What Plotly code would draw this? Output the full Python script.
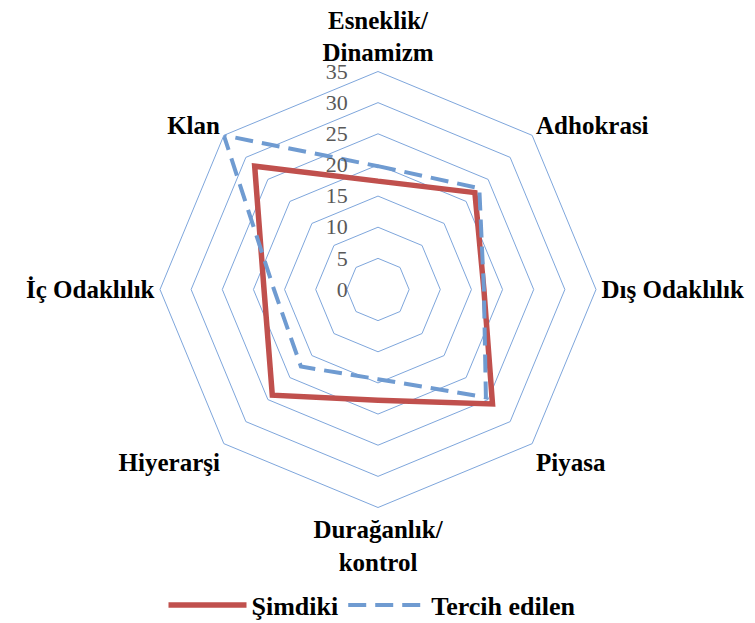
import plotly.graph_objects as go

categories = ["Esneklik/<br>Dinamizm", "Adhokrasi", "Dış Odaklılık", "Piyasa",
              "Durağanlık/<br>kontrol", "Hiyerarşi", "İç Odaklılık", "Klan"]
simdiki = [17.4, 22, 17, 26, 17.8, 24, 18.3, 28]
tercih = [19.8, 23, 17, 24.5, 14.4, 17.5, 16.7, 35]
radial_ticks = [0, 5, 10, 15, 20, 25, 30, 35]

theta = categories + [categories[0]]

fig = go.Figure()
fig.add_trace(go.Scatterpolar(
    r=simdiki + [simdiki[0]], theta=theta, mode="lines", name="Şimdiki",
    line=dict(color="#C0504D", width=5.5)))
fig.add_trace(go.Scatterpolar(
    r=tercih + [tercih[0]], theta=theta, mode="lines", name="Tercih edilen",
    line=dict(color="#6F9BD1", width=4, dash="18px,9px")))

serif = "Liberation Serif, Times New Roman, serif"
W, H = 755, 623
off = 8  # page body margin offset
cx, cy, R = 378 - off, 289.5 - off, 218
fig.update_layout(
    width=W, height=H,
    margin=dict(l=0, r=0, t=0, b=0),
    paper_bgcolor="white", plot_bgcolor="white",
    font=dict(family=serif, color="black"),
    polar=dict(
        domain=dict(x=[(cx - R) / W, (cx + R) / W],
                    y=[(H - cy - R) / H, (H - cy + R) / H]),
        bgcolor="white",
        gridshape="linear",
        radialaxis=dict(range=[0, 35], tickvals=radial_ticks, showline=False,
                        ticks="outside", ticklen=22, tickcolor="rgba(0,0,0,0)",
                        angle=90, side="counterclockwise", tickangle=90,
                        gridcolor="#7EA6DC", gridwidth=1,
                        tickfont=dict(family=serif, size=22, color="#595959")),
        angularaxis=dict(type="category", categoryorder="array", categoryarray=categories,
                         rotation=90, direction="clockwise", showgrid=False,
                         showline=True, linecolor="#7EA6DC", linewidth=1, ticks="",
                         tickfont=dict(family=serif, size=25, color="black", weight="bold")),
    ),
    legend=dict(orientation="h", x=(372 - off) / W, xanchor="center",
                y=(H - (605 - off)) / H, yanchor="middle",
                itemwidth=78,
                font=dict(family=serif, size=26, color="black", weight="bold")),
)
fig.write_html("out.html")
